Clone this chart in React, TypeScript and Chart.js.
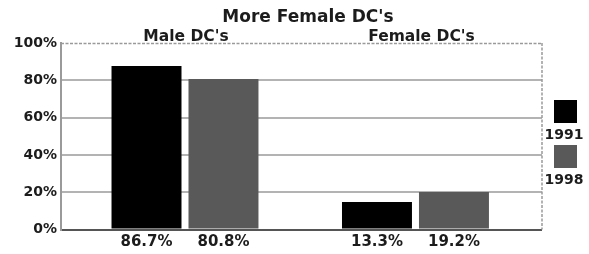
import React, { useEffect, useRef } from "react";
import { Chart, registerables } from "chart.js";

Chart.register(...registerables);

const titleText = "More Female DC's";
const categories = ["Male DC's", "Female DC's"];
const seriesNames = ["1991", "1998"];
const values1991 = [87.7, 14.7];
const values1998 = [80.7, 20.1];
const labels1991 = ["86.7%", "13.3%"];
const labels1998 = ["80.8%", "19.2%"];
const yTicks = [0, 20, 40, 60, 80, 100];
const seriesColors = ["#000000", "#595959"];

const FONT = "'DejaVu Sans', sans-serif";
const TEXT = "#1c1c1c";

const overlayPlugin = {
  id: "overlay",
  afterDraw(chart: any) {
    const ctx = chart.ctx;
    const area = chart.chartArea;
    const x = chart.scales.x;
    ctx.save();
    ctx.strokeStyle = "#9a9a9a";
    ctx.lineWidth = 1.5;
    ctx.setLineDash([3, 1.5]);
    ctx.beginPath();
    ctx.moveTo(area.left, area.top + 0.5);
    ctx.lineTo(area.right, area.top + 0.5);
    ctx.stroke();
    ctx.beginPath();
    ctx.moveTo(area.right, area.top);
    ctx.lineTo(area.right, area.bottom);
    ctx.stroke();
    ctx.setLineDash([]);

    ctx.fillStyle = TEXT;
    ctx.textAlign = "center";
    ctx.textBaseline = "alphabetic";
    ctx.font = `bold 17px ${FONT}`;
    ctx.fillText(titleText, 308, 22);
    ctx.font = `bold 15.5px ${FONT}`;
    categories.forEach((c, i) => {
      ctx.fillText(c, x.getPixelForValue(i) + (i === 1 ? 6 : 1), 41);
    });
    ctx.font = `bold 15px ${FONT}`;
    const allLabels = [labels1991, labels1998];
    chart.data.datasets.forEach((ds: any, di: number) => {
      const meta = chart.getDatasetMeta(di);
      meta.data.forEach((bar: any, i: number) => {
        ctx.fillText(allLabels[di][i], bar.x, 246);
      });
    });
    const boxX = 554;
    const boxTops = [100, 145];
    const textBase = [139, 184];
    ctx.font = `bold 14px ${FONT}`;
    seriesNames.forEach((n, i) => {
      ctx.fillStyle = seriesColors[i];
      ctx.fillRect(boxX, boxTops[i], 23, 23);
      ctx.fillStyle = TEXT;
      ctx.fillText(n, 564, textBase[i]);
    });
    ctx.restore();
  },
};

export default function App() {
  const ref = useRef<HTMLCanvasElement | null>(null);
  useEffect(() => {
    if (!ref.current) return;
    const chart = new Chart(ref.current, {
      type: "bar",
      data: {
        datasets: [
          {
            label: seriesNames[0],
            data: categories.map((_, i) => ({ x: i, y: values1991[i] })),
            backgroundColor: seriesColors[0],
            borderWidth: 0,
          },
          {
            label: seriesNames[1],
            data: categories.map((_, i) => ({ x: i, y: values1998[i] })),
            backgroundColor: seriesColors[1],
            borderWidth: 0,
          },
        ],
      },
      options: {
        animation: false,
        responsive: true,
        maintainAspectRatio: false,
        categoryPercentage: 0.668,
        barPercentage: 0.909,
        layout: { padding: { top: 43, bottom: 24.5, right: 47, left: 0 } },
        plugins: { legend: { display: false }, title: { display: false }, tooltip: { enabled: false } },
        scales: {
          x: {
            type: "linear",
            display: false,
            offset: false,
            grid: { offset: false },
            min: -0.538,
            max: 1.549,
            afterBuildTicks: (axis: any) => {
              axis.ticks = categories.map((_, i) => ({ value: i }));
            },
          },
          y: {
            min: 0,
            max: 100,
            afterBuildTicks: (axis: any) => {
              axis.ticks = yTicks.map((v) => ({ value: v }));
            },
            afterFit: (axis: any) => {
              axis.width = 61;
            },
            ticks: {
              callback: (v: any) => v + "%",
              font: { family: FONT, size: 14, weight: "bold" },
              color: TEXT,
              padding: 4,
            },
            grid: {
              drawTicks: false,
              lineWidth: 2,
              color: (c: any) => {
                const v = c.tick ? c.tick.value : -1;
                if (v === 0) return "#555555";
                if (v === 100) return "rgba(0,0,0,0)";
                return "#b3b3b3";
              },
            },
            border: { color: "#9a9a9a", width: 2 },
          },
        },
      },
      plugins: [overlayPlugin],
    } as any);
    return () => chart.destroy();
  }, []);
  return (
    <div style={{ position: "fixed", left: 0, top: 0, width: 589, height: 254, background: "#fff" }}>
      <canvas ref={ref} />
    </div>
  );
}
